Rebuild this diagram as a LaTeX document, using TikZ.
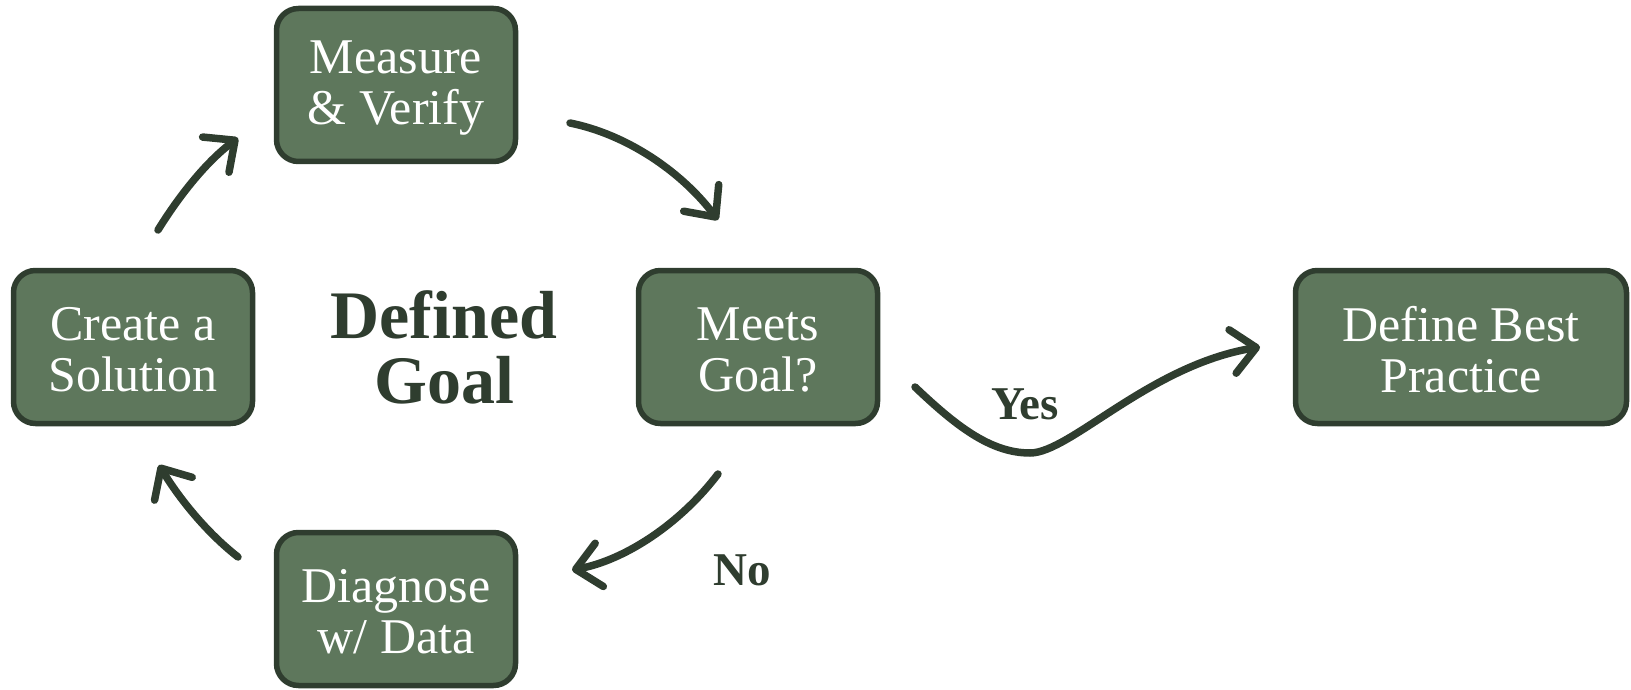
\documentclass[tikz,border=0pt]{standalone}
\usepackage{fontspec}
\setmainfont{Liberation Serif}
\usetikzlibrary{arrows.meta}
\definecolor{boxfill}{HTML}{5E775C}
\definecolor{boxline}{HTML}{2F3D2F}
\tikzset{
  stepbox/.style={draw=boxline, fill=boxfill, line width=5.5pt, rounded corners=22pt,
    minimum width=239pt, minimum height=153pt},
  boxtext/.style={align=center, text=white, inner sep=0pt,
    font=\fontsize{50}{51}\selectfont, yshift=-3pt},
  arr/.style={draw=boxline, line width=7.5pt, line cap=round,
    -{Straight Barb[length=24pt,width=44pt,round]}},
  lbl/.style={text=boxline, font=\bfseries\fontsize{47}{47}\selectfont, inner sep=0pt},
}
\begin{document}
\begin{tikzpicture}[x=1pt,y=-1pt]
\useasboundingbox (0,0) rectangle (1631,690);
\node[stepbox] (mv) at (396,85) {};
\node[stepbox] (cs) at (133,347) {};
\node[stepbox] (mg) at (758,347) {};
\node[stepbox] (dd) at (396,609) {};
\node[stepbox, minimum width=331pt] (bp) at (1461,347) {};
\node[boxtext] (mvt) at (mv) {Measure\\\& Verify};
\node[boxtext] (cst) at (cs) {Create a\\Solution};
\node[boxtext] (mgt) at (mg) {Meets\\Goal?};
\node[boxtext] (ddt) at (dd) {Diagnose\\w/ Data};
\node[boxtext] (bpt) at (bp) {Define Best\\Practice};
\node[text=boxline, align=center, inner sep=0pt, font=\bfseries\fontsize{68}{65}\selectfont] (goal) at (444,347) {Defined\\Goal};
\node[lbl] (yes) at (1025,404) {Yes};
\node[lbl] (no) at (742,570) {No};
\coordinate (a1s) at (158,230);
\coordinate (a1e) at (238,138);
\coordinate (a2s) at (570,123);
\coordinate (a2e) at (718,220);
\coordinate (a3s) at (718,474);
\coordinate (a3e) at (572,570);
\coordinate (a4s) at (238,557);
\coordinate (a4e) at (159,465);
\coordinate (a5s) at (915,387);
\coordinate (a5m) at (1030,453);
\coordinate (a5e) at (1260,347);
\draw[arr] (a1s) .. controls (179,196) and (206,162) .. (a1e);
\draw[arr] (a2s) .. controls (625,134) and (680,170) .. (a2e);
\draw[arr] (a3s) .. controls (680,524) and (625,560) .. (a3e);
\draw[arr] (a4s) .. controls (206,532) and (179,498) .. (a4e);
\draw[arr] (a5s) .. controls (955,425) and (990,453) .. (a5m) .. controls (1070,453) and (1150,365) .. (a5e);
\end{tikzpicture}
\end{document}
